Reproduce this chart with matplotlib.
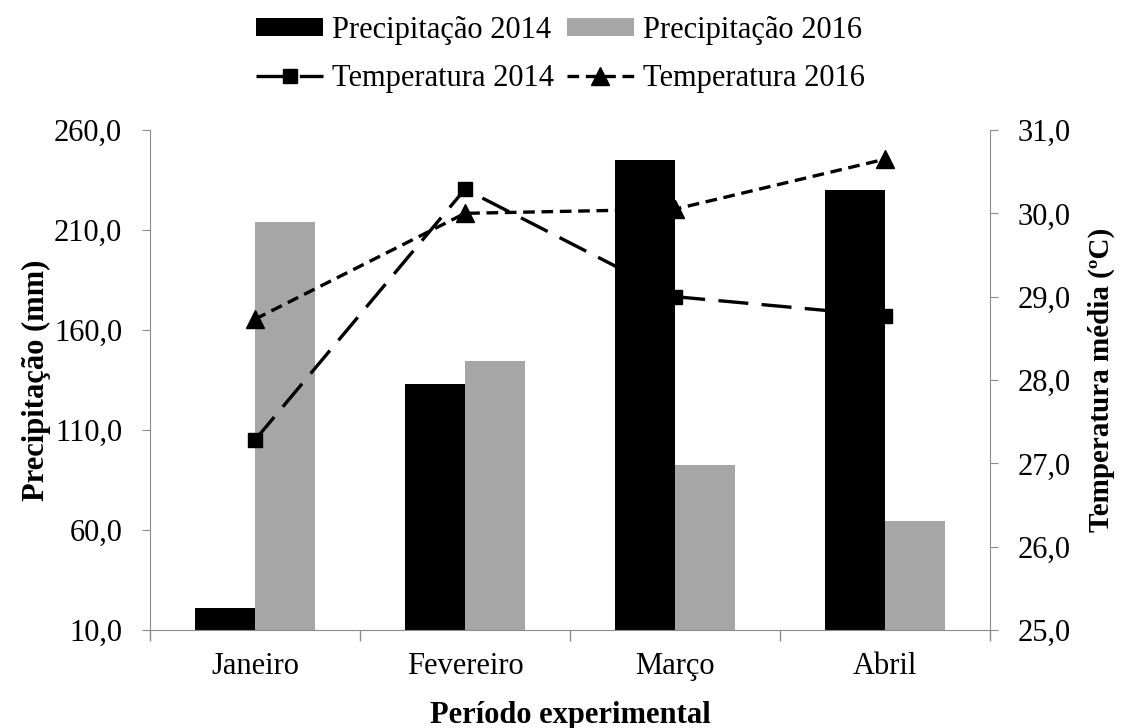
import numpy as np
import matplotlib
matplotlib.use("Agg")
import matplotlib.pyplot as plt
from matplotlib.ticker import FuncFormatter, FixedLocator

plt.rcParams["font.family"] = ["Liberation Serif", "DejaVu Serif"]

# --- data ---
meses = ["Janeiro", "Fevereiro", "Março", "Abril"]
prec_2014 = [21.0, 133.0, 245.0, 230.0]
prec_2016 = [214.0, 144.5, 92.5, 64.5]
temp_2014 = [27.28, 30.29, 29.0, 28.77]
temp_2016 = [28.73, 30.0, 30.05, 30.65]

left_ticks = [10, 60, 110, 160, 210, 260]
right_ticks = [25, 26, 27, 28, 29, 30, 31]

x = np.arange(len(meses))
w = 0.286
gray_axis = "#8c8c8c"
fs = 22

fig = plt.figure(figsize=(11.21, 7.28), dpi=100)
ax = fig.add_axes([150 / 1121, 98 / 728, 840 / 1121, 500 / 728])
ax2 = ax.twinx()

b1 = ax.bar(x - w / 2, np.array(prec_2014) - 10, w, bottom=10, color="black", label="Precipitação 2014")
b2 = ax.bar(x + w / 2, np.array(prec_2016) - 10, w, bottom=10, color="#a6a6a6", label="Precipitação 2016")

l1, = ax2.plot(x, temp_2014, color="black", lw=2.4, dashes=(9, 4), marker="s", ms=10,
               label="Temperatura 2014")
l2, = ax2.plot(x, temp_2016, color="black", lw=2.4, dashes=(3.5, 2), marker="^", ms=13,
               label="Temperatura 2016")

ax.set_xlim(-0.5, 3.5)
ax.set_ylim(10, 260)
ax2.set_ylim(25, 31)
ax.set_yticks(left_ticks)
ax2.set_yticks(right_ticks)
fmt = FuncFormatter(lambda v, p: f"{v:.1f}".replace(".", ","))
ax.yaxis.set_major_formatter(fmt)
ax2.yaxis.set_major_formatter(fmt)

ax.set_xticks(x)
ax.set_xticklabels(meses, fontsize=fs)
ax.tick_params(axis="x", which="major", length=0, pad=16)
ax.xaxis.set_minor_locator(FixedLocator(np.arange(-0.5, 4, 1)))
ax.tick_params(axis="x", which="minor", length=8, color=gray_axis, width=1)

for a in (ax, ax2):
    for s in a.spines.values():
        s.set_color(gray_axis)
    a.spines["top"].set_visible(False)
ax.spines["right"].set_visible(False)
ax2.spines["left"].set_visible(False)
ax2.spines["bottom"].set_visible(False)

ax.tick_params(axis="y", length=6, color=gray_axis, labelsize=fs, pad=14)
ax2.tick_params(axis="y", length=6, color=gray_axis, labelsize=fs, pad=14)

ax.set_ylabel("Precipitação (mm)", fontsize=fs, fontweight="bold", labelpad=2)
ax2.set_ylabel("Temperatura média (ºC)", fontsize=21, fontweight="bold", rotation=90, labelpad=12)
ax.set_xlabel("Período experimental", fontsize=fs, fontweight="bold", labelpad=14)

fig.legend([b1, l1, b2, l2],
           ["Precipitação 2014", "Temperatura 2014", "Precipitação 2016", "Temperatura 2016"],
           ncol=2, loc="upper center", bbox_to_anchor=(0.5, 1.016), frameon=False,
           fontsize=fs, handlelength=2.2, handleheight=0.5, handletextpad=0.3,
           columnspacing=0.4, labelspacing=0.62)

fig.savefig("out.png", dpi=100)
